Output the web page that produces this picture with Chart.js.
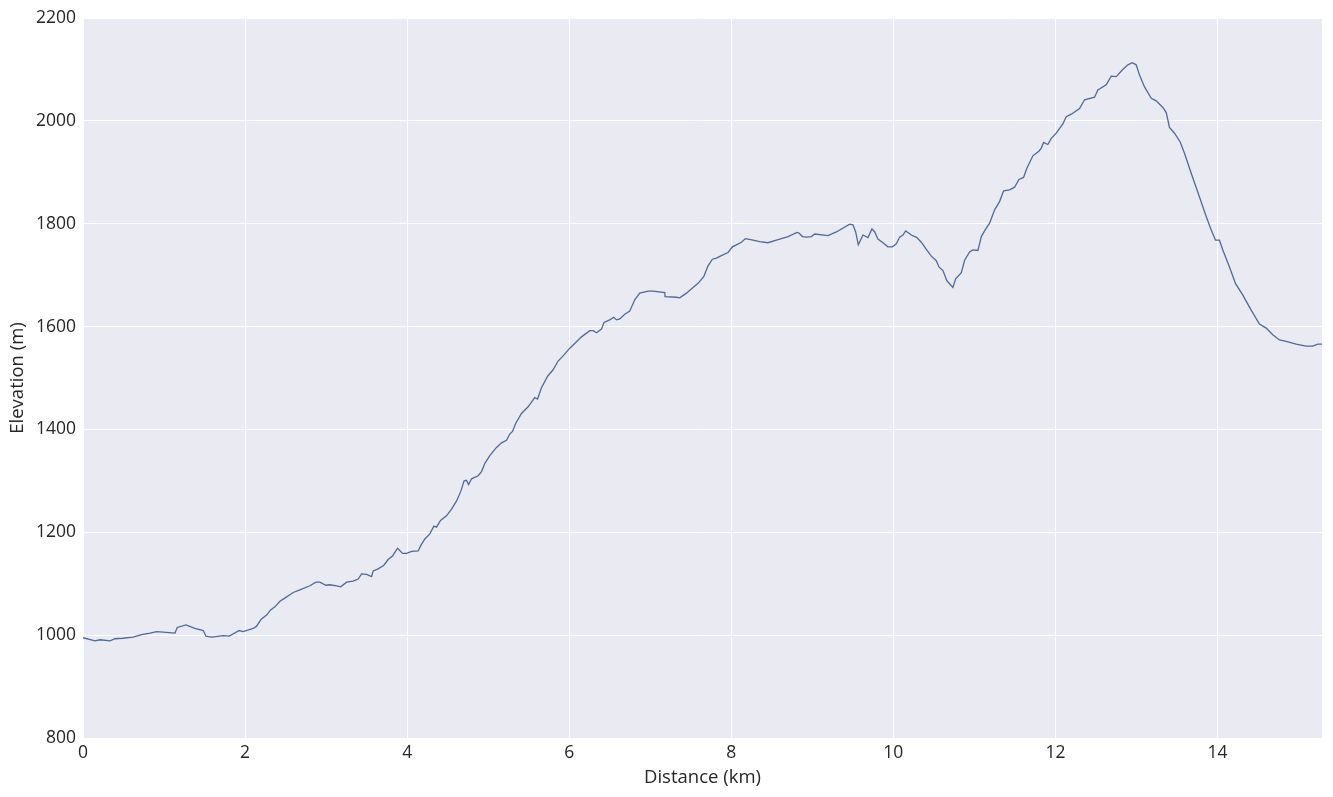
<!DOCTYPE html>
<html>
<head>
<meta charset="utf-8">
<script src="https://cdn.jsdelivr.net/npm/chart.js@4/dist/chart.umd.min.js"></script>
<style>
  html, body { margin: 0; padding: 0; background: #ffffff; }
  #wrap { width: 1333px; height: 797px; position: relative; }
</style>
</head>
<body>
<div id="wrap"><canvas id="c" width="1333" height="797"></canvas></div>
<script>
const distanceKm = [
  0.00, 0.148, 0.21, 0.333, 0.395, 0.49, 0.617, 0.724, 0.826, 0.909, 0.99, 1.135, 1.163, 1.27, 1.381, 1.484, 1.517, 1.588, 1.73, 1.805,
  1.928, 1.977, 2.1, 2.14, 2.2, 2.266, 2.315, 2.368, 2.43, 2.49, 2.594, 2.676, 2.8, 2.874, 2.923, 2.997, 3.047, 3.13, 3.18, 3.253,
  3.334, 3.396, 3.438, 3.5, 3.561, 3.581, 3.643, 3.713, 3.766, 3.82, 3.882, 3.944, 3.993, 4.055, 4.136, 4.178, 4.219, 4.28, 4.33, 4.363,
  4.412, 4.486, 4.548, 4.61, 4.663, 4.703, 4.733, 4.758, 4.795, 4.876, 4.918, 4.959, 5.02, 5.103, 5.165, 5.226, 5.267, 5.3, 5.341, 5.411,
  5.493, 5.575, 5.609, 5.658, 5.732, 5.801, 5.863, 5.925, 6.007, 6.081, 6.152, 6.254, 6.295, 6.337, 6.398, 6.43, 6.5, 6.55, 6.583, 6.624,
  6.686, 6.747, 6.809, 6.871, 6.973, 7.035, 7.18, 7.183, 7.323, 7.364, 7.447, 7.528, 7.59, 7.66, 7.713, 7.767, 7.817, 7.878, 7.96, 8.014,
  8.063, 8.125, 8.175, 8.268, 8.35, 8.453, 8.557, 8.7, 8.811, 8.836, 8.878, 8.927, 8.989, 9.03, 9.193, 9.297, 9.461, 9.502, 9.535, 9.568,
  9.625, 9.687, 9.736, 9.77, 9.81, 9.872, 9.933, 9.988, 10.037, 10.078, 10.118, 10.152, 10.18, 10.222, 10.291, 10.345, 10.407, 10.469, 10.53, 10.563,
  10.612, 10.661, 10.735, 10.769, 10.839, 10.88, 10.941, 10.982, 11.044, 11.086, 11.126, 11.188, 11.25, 11.311, 11.361, 11.435, 11.496, 11.55, 11.607, 11.648,
  11.722, 11.796, 11.826, 11.854, 11.907, 11.949, 12.01, 12.092, 12.134, 12.196, 12.298, 12.36, 12.483, 12.524, 12.627, 12.689, 12.751, 12.825, 12.894, 12.948,
  12.997, 13.038, 13.1, 13.183, 13.244, 13.326, 13.368, 13.408, 13.47, 13.54, 13.593, 13.676, 13.778, 13.861, 13.923, 13.976, 14.025, 14.066, 14.148, 14.222,
  14.313, 14.416, 14.518, 14.601, 14.682, 14.765, 14.848, 14.971, 15.094, 15.176, 15.238, 15.29
];
const elevationM = [
  995, 989, 991, 989, 993, 994, 996, 1001, 1004, 1007, 1006, 1004, 1015, 1020, 1013, 1009, 998, 996, 999, 998,
  1009, 1007, 1013, 1017, 1031, 1039, 1049, 1055, 1066, 1072, 1083, 1088, 1096, 1103, 1103, 1097, 1098, 1096, 1094, 1103,
  1105, 1109, 1119, 1118, 1114, 1125, 1129, 1136, 1147, 1154, 1169, 1159, 1159, 1163, 1164, 1177, 1187, 1197, 1212, 1210,
  1223, 1232, 1245, 1261, 1280, 1300, 1301, 1293, 1304, 1310, 1318, 1334, 1349, 1365, 1374, 1379, 1391, 1396, 1412, 1431,
  1444, 1462, 1459, 1481, 1503, 1516, 1533, 1543, 1558, 1569, 1580, 1592, 1592, 1588, 1595, 1608, 1613, 1618, 1613, 1615,
  1624, 1630, 1652, 1665, 1669, 1669, 1666, 1658, 1657, 1656, 1665, 1676, 1684, 1697, 1718, 1731, 1733, 1738, 1744, 1755,
  1759, 1764, 1771, 1768, 1765, 1763, 1768, 1775, 1783, 1782, 1775, 1774, 1775, 1780, 1777, 1784, 1799, 1798, 1784, 1759,
  1778, 1773, 1790, 1784, 1770, 1763, 1755, 1755, 1761, 1774, 1778, 1786, 1783, 1778, 1773, 1764, 1750, 1737, 1728, 1716,
  1709, 1689, 1676, 1693, 1705, 1729, 1745, 1749, 1748, 1775, 1786, 1801, 1827, 1843, 1864, 1866, 1871, 1886, 1890, 1908,
  1932, 1941, 1947, 1958, 1954, 1966, 1976, 1994, 2008, 2013, 2024, 2041, 2046, 2060, 2070, 2087, 2086, 2099, 2109, 2113,
  2109, 2089, 2066, 2044, 2039, 2026, 2016, 1987, 1976, 1959, 1937, 1898, 1852, 1814, 1788, 1768, 1768, 1749, 1716, 1684,
  1661, 1632, 1605, 1597, 1584, 1574, 1571, 1566, 1562, 1562, 1566, 1566
];
const xTickValues = [0, 2, 4, 6, 8, 10, 12, 14];
const yTickValues = [800, 1000, 1200, 1400, 1600, 1800, 2000, 2200];
const xTitle = 'Distance (km)';
const yTitle = 'Elevation (m)';

const points = distanceKm.map((d, i) => ({ x: d, y: elevationM[i] }));

const bgPlugin = {
  id: 'plotBg',
  beforeDraw(chart) {
    const { ctx, chartArea } = chart;
    ctx.save();
    ctx.fillStyle = '#EAEAF2';
    ctx.fillRect(chartArea.left, chartArea.top, chartArea.right - chartArea.left, chartArea.bottom - chartArea.top);
    ctx.restore();
  }
};

const FONT = "'Open Sans', 'DejaVu Sans', sans-serif";
const TXT = '#262626';

new Chart(document.getElementById('c'), {
  type: 'line',
  data: {
    datasets: [{
      data: points,
      borderColor: '#4E6A9A',
      borderWidth: 1.3,
      pointRadius: 0,
      fill: false,
      tension: 0
    }]
  },
  options: {
    responsive: false,
    animation: false,
    layout: { padding: { top: 18, right: 11, left: 0, bottom: 0 } },
    plugins: { legend: { display: false }, tooltip: { enabled: false } },
    scales: {
      x: {
        type: 'linear',
        min: 0,
        max: 15.29,
        afterBuildTicks(s) { s.ticks = xTickValues.map(v => ({ value: v })); },
        afterFit(s) { s.height = 59; },
        grid: { color: '#ffffff', lineWidth: 1, drawTicks: false },
        border: { display: false },
        ticks: { color: TXT, font: { family: FONT, size: 17.5 }, padding: 5, maxRotation: 0,
                 callback: v => String(v) },
        title: { display: true, text: xTitle, color: TXT, font: { family: FONT, size: 18.5 }, padding: { top: 0, bottom: 8 } }
      },
      y: {
        type: 'linear',
        min: 800,
        max: 2200,
        afterBuildTicks(s) { s.ticks = yTickValues.map(v => ({ value: v })); },
        afterFit(s) { s.width = 83; },
        grid: { color: '#ffffff', lineWidth: 1, drawTicks: false },
        border: { display: false },
        ticks: { color: TXT, font: { family: FONT, size: 17.5 }, padding: 7,
                 callback: v => String(v) },
        title: { display: true, text: yTitle, color: TXT, font: { family: FONT, size: 18.5 }, padding: { top: 7, bottom: 0 } }
      }
    }
  },
  plugins: [bgPlugin]
});
</script>
</body>
</html>
